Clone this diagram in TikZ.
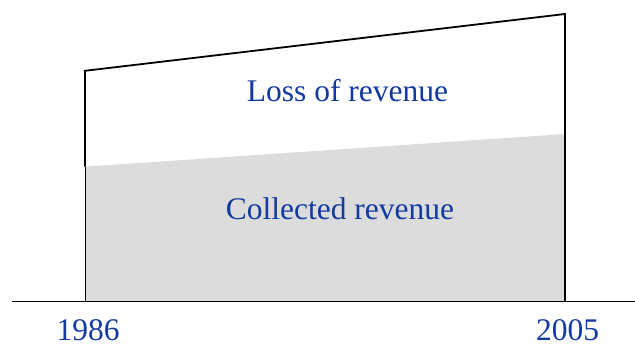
\documentclass[tikz,border=0pt]{standalone}
\usepackage{fontspec}
\setmainfont{Liberation Serif}
\definecolor{txtblue}{RGB}{18,58,160}
\definecolor{fillgray}{RGB}{220,220,220}
\begin{document}
\begin{tikzpicture}[x=1pt,y=-1pt,
  lbl/.style={text=txtblue,font=\fontsize{31.5}{36}\selectfont,inner sep=0pt,anchor=base},
  outline/.style={black,line width=1.8pt}]
\useasboundingbox (0,0) rectangle (635,347);
\coordinate (bl) at (85,301.5);
\coordinate (br) at (565,301.5);
\coordinate (tl) at (85,70.8);
\coordinate (tr) at (565,14);
\coordinate (gl) at (85,166.7);
\coordinate (gr) at (565,134);
\coordinate (axl) at (12,301.5);
\coordinate (axr) at (635,301.5);
\fill[fillgray] (bl) -- (gl) -- (gr) -- (br) -- cycle;
\draw[black,line width=0.9pt] (gl) -- (bl);
\draw[outline] (gl) -- (tl) -- (tr) -- (br);
\draw[outline] (axl) -- (axr);
\node[lbl] (loss) at (347.5,101.5) {Loss of revenue};
\node[lbl] (coll) at (340,220) {Collected revenue};
\node[lbl] (y1) at (88,341) {1986};
\node[lbl] (y2) at (567.5,341) {2005};
\end{tikzpicture}
\end{document}
